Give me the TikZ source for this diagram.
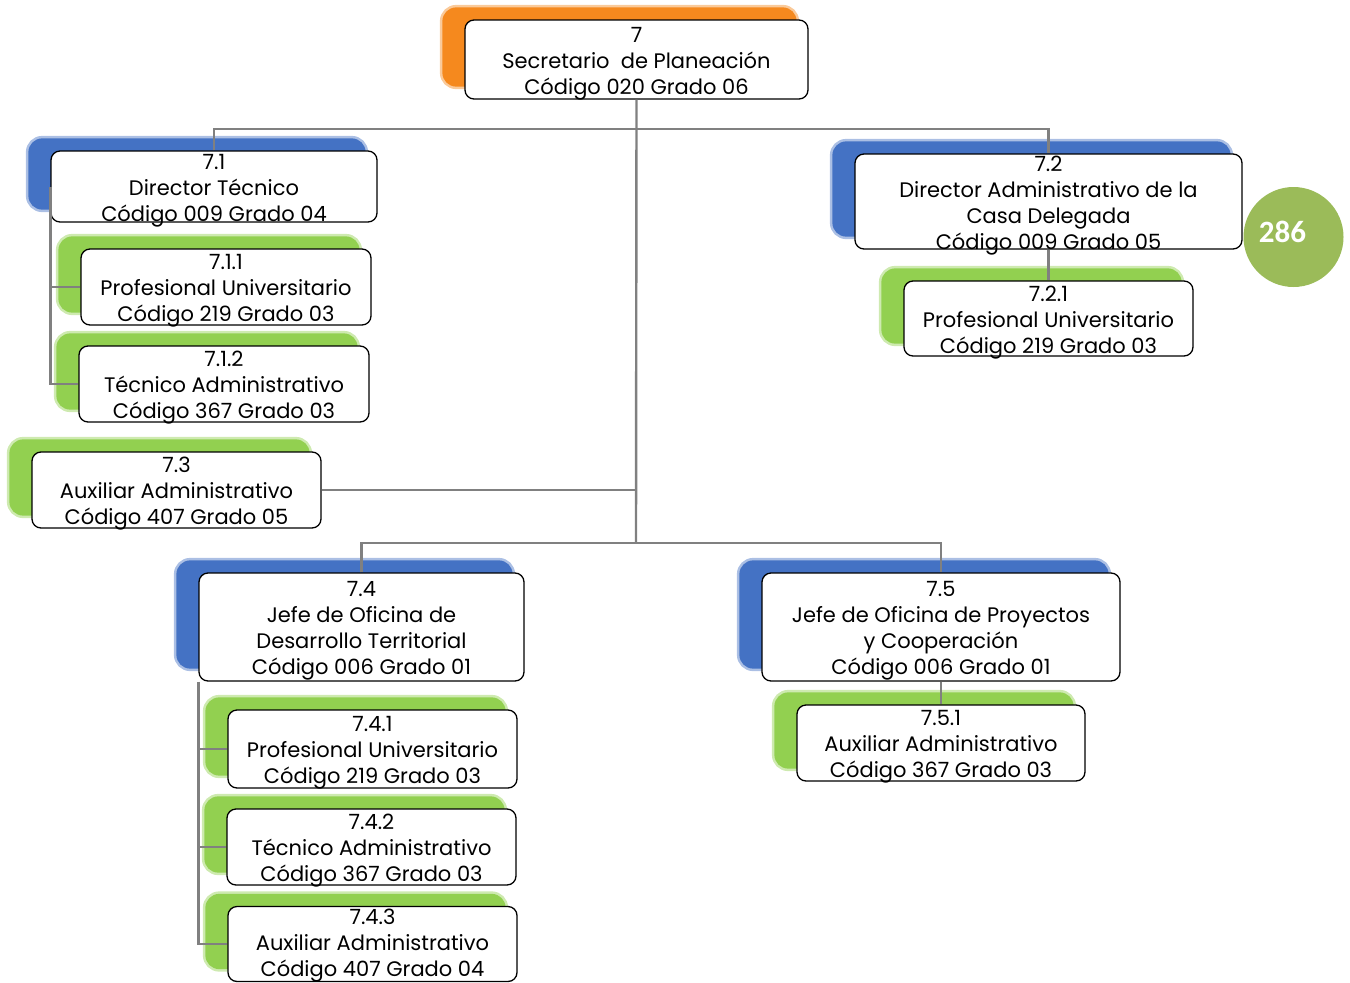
\documentclass[tikz,border=0pt]{standalone}
\usepackage{fontspec}
\setmainfont{Poppins}
\newfontfamily\badgefont{Carlito}
\usetikzlibrary{backgrounds,positioning}
\definecolor{jefe}{HTML}{F5891E}
\definecolor{dir}{HTML}{4472C4}
\definecolor{prof}{HTML}{92D050}
\definecolor{badge}{HTML}{9BBB59}
\definecolor{conn}{HTML}{808080}
\tikzstyle{cargo} = [rectangle, draw, fill=white, rounded corners=9pt, line width=1.3pt, inner sep=0pt]
\tikzstyle{texto} = [align=center, inner sep=0pt, yshift=-4pt, font=\fontsize{21}{26}\selectfont]
\tikzstyle{line} = [draw, conn, line width=2.4pt]
\tikzstyle{sello} = [circle, fill=badge, minimum size=100pt, inner sep=0pt]
% colored block behind each box, with a soft edge
\newcommand{\respaldo}[2]{\fill[#1, draw=#1, draw opacity=0.45, line width=5pt, rounded corners=14pt] ([shift={(-22,-12)}]#2.north west) rectangle ([shift={(-12,-13)}]#2.south east);}

\begin{document}
\begin{tikzpicture}[x=1pt, y=-1pt]
		\useasboundingbox (0,0) rectangle (1350,983);
		
		\node [cargo, minimum width=343pt, minimum height=79pt, label={[texto]center:7\\Secretario\ \ de Planeación\\Código 020 Grado 06}] (s7) at (636.5,59.5) {};
		
		\node [cargo, minimum width=326pt, minimum height=71pt, label={[texto]center:7.1\\Director Técnico\\Código 009 Grado 04}] (s71) at (214,186.5) {};
		\node [cargo, minimum width=290pt, minimum height=76pt, label={[texto]center:7.1.1\\Profesional Universitario\\Código 219 Grado 03}] (s711) at (226,287) {};
		\node [cargo, minimum width=290pt, minimum height=76pt, label={[texto]center:7.1.2\\Técnico Administrativo\\Código 367 Grado 03}] (s712) at (224,384) {};
		
		\node [cargo, minimum width=387pt, minimum height=95pt, label={[texto]center:7.2\\Director Administrativo de la\\Casa Delegada\\Código 009 Grado 05}] (s72) at (1048.5,201.5) {};
		\node [cargo, minimum width=289pt, minimum height=75pt, label={[texto]center:7.2.1\\Profesional Universitario\\Código 219 Grado 03}] (s721) at (1048.5,318.5) {};
		
		\node [cargo, minimum width=289pt, minimum height=76pt, label={[texto]center:7.3\\Auxiliar Administrativo\\Código 407 Grado 05}] (s73) at (176.5,490) {};
		
		\node [cargo, minimum width=325pt, minimum height=108pt, label={[texto]center:7.4\\Jefe de Oficina de\\Desarrollo Territorial\\Código 006 Grado 01}] (s74) at (361.5,627) {};
		\node [cargo, minimum width=289pt, minimum height=78pt, label={[texto]center:7.4.1\\Profesional Universitario\\Código 219 Grado 03}] (s741) at (372.5,749) {};
		\node [cargo, minimum width=289pt, minimum height=76pt, label={[texto]center:7.4.2\\Técnico Administrativo\\Código 367 Grado 03}] (s742) at (371.5,847) {};
		\node [cargo, minimum width=289pt, minimum height=75pt, label={[texto, yshift=2pt]center:7.4.3\\Auxiliar Administrativo\\Código 407 Grado 04}] (s743) at (372.5,944) {};
		
		\node [cargo, minimum width=358pt, minimum height=108pt, label={[texto]center:7.5\\Jefe de Oficina de Proyectos\\y Cooperación\\Código 006 Grado 01}] (s75) at (941,627) {};
		\node [cargo, minimum width=288pt, minimum height=76pt, label={[texto]center:7.5.1\\Auxiliar Administrativo\\Código 367 Grado 03}] (s751) at (941,743) {};
		
		\node [sello] (pag) at (1293.5,237) {};
		\node [text=white, font=\badgefont\bfseries\fontsize{31}{31}\selectfont, xshift=-11pt, yshift=5pt] (pagnum) at (pag.center) {286};
		
		\begin{scope}[on background layer]
		\respaldo{jefe}{s7}
		\respaldo{dir}{s71} \respaldo{dir}{s72} \respaldo{dir}{s74} \respaldo{dir}{s75}
		\respaldo{prof}{s711} \respaldo{prof}{s712} \respaldo{prof}{s721} \respaldo{prof}{s73}
		\respaldo{prof}{s741} \respaldo{prof}{s742} \respaldo{prof}{s743} \respaldo{prof}{s751}
		\end{scope}
		
		\coordinate (bus1) at (636,129);
		\coordinate (bus2) at (636,543);
		\path [line] (s7.south) -- (bus2);
		\path [line] (s71.north) |- (bus1) -| (s72.north);
		\path [line] (s73.east) -- (s73.east -| bus2);
		\path [line] (s74.north) |- (bus2) -| (s75.north);
		
		\path [line] (s71.west) |- (s712.west);
		\path [line] (s71.west |- s711.west) -- (s711.west);
		\path [line] (s72.south) -- (s721.north);
		\path [line] (s74.south west) |- (s743.west);
		\path [line] (s74.south west |- s741.west) -- (s741.west);
		\path [line] (s74.south west |- s742.west) -- (s742.west);
		\path [line] (s75.south) -- (s751.north);
\end{tikzpicture}
\end{document}
